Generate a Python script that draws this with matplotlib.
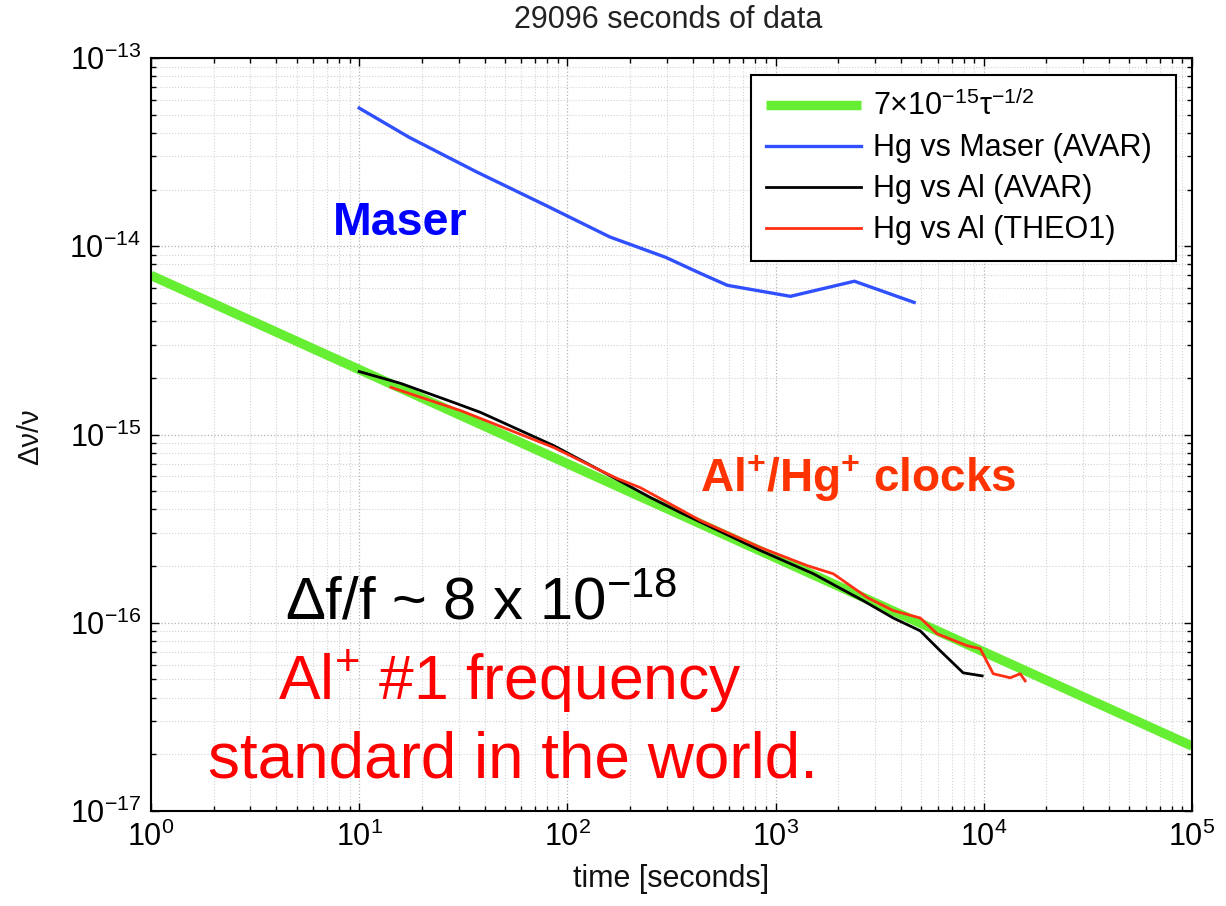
import matplotlib
matplotlib.use("Agg")
import matplotlib.pyplot as plt
from matplotlib.ticker import FixedLocator, LogLocator, NullFormatter

plt.rcParams['font.family'] = ['Liberation Sans', 'DejaVu Sans']
plt.rcParams['mathtext.fontset'] = 'custom'
plt.rcParams['mathtext.rm'] = 'Liberation Sans'
plt.rcParams['mathtext.it'] = 'Liberation Sans:italic'
plt.rcParams['mathtext.bf'] = 'Liberation Sans:bold'
plt.rcParams['mathtext.default'] = 'regular'

# Reference slope: 7e-15 * tau^-1/2
ref_tau = [1, 1e5]
ref_adev = [7e-15, 7e-15 / 316.23]

# Hg vs hydrogen maser, Allan deviation
maser_tau = [10, 17.3, 36.7, 78.6, 160, 296, 435, 587, 1178, 2390, 4630]
maser_adev = [5.42e-14, 3.8e-14, 2.48e-14, 1.65e-14, 1.12e-14, 8.74e-15,
              7.18e-15, 6.2e-15, 5.42e-15, 6.52e-15, 5.03e-15]

# Hg vs Al, Allan deviation
avar_tau = [10, 15.8, 28.4, 38.3, 85.9, 144, 251, 349, 845, 1519, 2635,
            3673, 4951, 6175, 7960, 9820]
avar_adev = [2.16e-15, 1.87e-15, 1.48e-15, 1.31e-15, 8.73e-16, 6.44e-16,
             4.62e-16, 3.85e-16, 2.42e-16, 1.82e-16, 1.31e-16, 1.06e-16,
             9.06e-17, 7.1e-17, 5.42e-17, 5.22e-17]

# Hg vs Al, Theo1 deviation
theo_tau = [14.2, 30.7, 86, 144, 174, 224, 436, 845, 1421, 1893, 2760,
            3673, 4951, 5975, 8318, 9610, 11100, 13400, 14960, 15800]
theo_adev = [1.78e-15, 1.34e-15, 8.53e-16, 6.44e-16, 5.83e-16, 5.22e-16,
             3.49e-16, 2.51e-16, 2.01e-16, 1.82e-16, 1.36e-16, 1.16e-16,
             1.06e-16, 8.73e-17, 7.55e-17, 7.28e-17, 5.36e-17, 5.1e-17,
             5.36e-17, 4.91e-17]

x_ticks = [1e0, 1e1, 1e2, 1e3, 1e4, 1e5]
y_ticks = [1e-17, 1e-16, 1e-15, 1e-14, 1e-13]

labels = [r'7×10$^{-15}$τ$^{-1/2}$', 'Hg vs Maser (AVAR)',
          'Hg vs Al (AVAR)', 'Hg vs Al (THEO1)']

W, H = 1226, 906
fig = plt.figure(figsize=(W / 100, H / 100), dpi=100)
L, R, T, B = 151, 1192, 58, 811
ax = fig.add_axes([L / W, 1 - B / H, (R - L) / W, (B - T) / H])

ax.plot(ref_tau, ref_adev, color='#66ee33', lw=6.8, solid_capstyle='butt',
        label=labels[0], zorder=2)
ax.plot(maser_tau, maser_adev, color='#3050ff', lw=2.4, label=labels[1], zorder=3)
ax.plot(avar_tau, avar_adev, color='black', lw=2.0, label=labels[2], zorder=4)
ax.plot(theo_tau, theo_adev, color='#ff3014', lw=2.0, label=labels[3], zorder=5)

ax.set_xscale('log')
ax.set_yscale('log')
ax.set_xlim(1, 1e5)
ax.set_ylim(1e-17, 1e-13)
ax.xaxis.set_major_locator(FixedLocator(x_ticks))
ax.yaxis.set_major_locator(FixedLocator(y_ticks))
ax.xaxis.set_minor_locator(LogLocator(base=10, subs=range(2, 10), numticks=20))
ax.yaxis.set_minor_locator(LogLocator(base=10, subs=range(2, 10), numticks=20))
ax.xaxis.set_minor_formatter(NullFormatter())
ax.yaxis.set_minor_formatter(NullFormatter())

ax.tick_params(which='both', direction='in', top=True, right=True, width=1.0)
ax.tick_params(which='major', length=6, labelsize=22)
ax.tick_params(axis='x', which='major', pad=8)
ax.tick_params(axis='y', which='major', pad=7)
ax.tick_params(which='minor', length=3.5)
for s in ax.spines.values():
    s.set_linewidth(1.5)

ax.set_axisbelow(True)
ax.grid(True, which='major', ls=':', color='#b4b4b4', lw=0.9)
ax.grid(True, which='minor', ls=':', color='#d2d2d2', lw=0.8)

ax.set_xlabel('time [seconds]', fontsize=22, color='#111111')
ax.xaxis.set_label_coords(0.5, (B - 864) / (B - T))
ax.set_ylabel('Δν/ν', fontsize=21, color='#111111')
ax.yaxis.set_label_coords((44 - L) / (R - L), (B - 437) / (B - T))

fig.text(668 / W, 1 - 20 / H, '29096 seconds of data', fontsize=22,
         ha='center', va='center', color='#222222')

leg = ax.legend(loc='upper left', mode='expand',
                bbox_to_anchor=((751 - L) / (R - L), 0.3,
                                (1176 - 751) / (R - L), (B - 75) / (B - T) - 0.3),
                borderaxespad=0, fontsize=22, handlelength=3.1,
                handletextpad=0.4, borderpad=0.5, labelspacing=0.36,
                fancybox=False, framealpha=1, edgecolor='black')
leg.get_frame().set_linewidth(1.5)


def px_text(x, y, s, **kw):
    fig.text(x / W, 1 - y / H, s, ha='left', va='baseline', **kw)


px_text(333, 235, 'Maser', fontsize=33.5, fontweight='bold', color='#0000ff')
px_text(700, 492, r'Al$^{+}$/Hg$^{+}$ clocks', fontsize=33,
        fontweight='bold', color='#ff3300')
px_text(285, 620, r'Δf/f ~ 8 x 10$^{-18}$', fontsize=43, color='black')
px_text(278, 700, r'Al$^{+}$ #1 frequency', fontsize=45, color='#ff0000')
px_text(208, 777, 'standard in the world.', fontsize=46, color='#ff0000')

fig.savefig('out.png', dpi=100)
